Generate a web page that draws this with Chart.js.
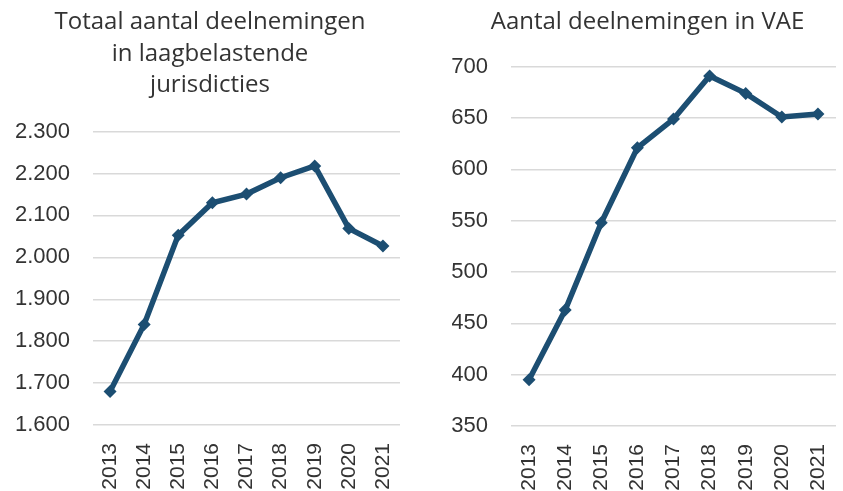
<!DOCTYPE html>
<html>
<head>
<meta charset="utf-8">
<script src="https://cdn.jsdelivr.net/npm/chart.js@4"></script>
<style>
  body { margin: 0; background: #fff; width: 843px; height: 491px; overflow: hidden; position: relative; }
  .box { position: absolute; top: 0; height: 491px; }
  #boxLeft { left: 0; width: 420px; }
  #boxRight { left: 452px; width: 391px; }
</style>
</head>
<body>
<div class="box" id="boxLeft"><canvas id="grafiekTotaal"></canvas></div>
<div class="box" id="boxRight"><canvas id="grafiekVAE"></canvas></div>
<script>
// Data
const jaren = ["2013", "2014", "2015", "2016", "2017", "2018", "2019", "2020", "2021"];
const totaalDeelnemingen = [1680, 1840, 2053, 2130, 2151, 2190, 2218, 2069, 2027];
const deelnemingenVAE = [395, 463, 548, 621, 649, 691, 674, 651, 654];
const ticksTotaal = [1600, 1700, 1800, 1900, 2000, 2100, 2200, 2300];
const ticksVAE = [350, 400, 450, 500, 550, 600, 650, 700];

const lijnKleur = "#1c4e72";
const tekstKleur = "#333333";

// duizendtallen met punt (nl)
function formatNL(v) {
  return String(v).replace(/\B(?=(\d{3})+(?!\d))/g, ".");
}

// as-breedtes vastzetten zodat het plotvlak op dezelfde plek staat als het origineel
function maakGrafiek(id, titel, waarden, ticks, opts) {
  new Chart(document.getElementById(id), {
    type: "line",
    data: {
      labels: jaren,
      datasets: [{
        data: waarden,
        borderColor: lijnKleur,
        backgroundColor: lijnKleur,
        borderWidth: 5.5,
        pointStyle: "rectRot",
        pointRadius: 6.5,
        pointBorderWidth: 0,
        tension: 0
      }]
    },
    options: {
      responsive: true,
      maintainAspectRatio: false,
      animation: false,
      layout: { padding: 0 },
      plugins: {
        legend: { display: false },
        tooltip: { enabled: false },
        title: {
          display: true,
          text: titel,
          color: tekstKleur,
          font: { family: "Open Sans", size: 24, weight: "normal", lineHeight: 1.3 },
          padding: { top: 7, bottom: opts.titelOnder }
        }
      },
      scales: {
        x: {
          offset: true,
          grid: { display: false },
          border: { display: false },
          ticks: {
            color: tekstKleur,
            font: { family: "Liberation Sans", size: 21 },
            minRotation: 90,
            maxRotation: 90,
            padding: 10
          },
          afterFit: axis => {
            axis.height = opts.xHoogte;
            axis.paddingLeft = 0;
            axis.paddingRight = opts.rechts;
          }
        },
        y: {
          min: ticks[0],
          max: ticks[ticks.length - 1],
          afterBuildTicks: axis => { axis.ticks = ticks.map(v => ({ value: v })); },
          grid: { color: "#d9d9d9", lineWidth: 1.5, drawTicks: false },
          border: { display: false },
          ticks: {
            color: tekstKleur,
            font: { family: "Liberation Sans", size: 22 },
            padding: 23,
            callback: v => formatNL(v)
          },
          afterFit: axis => { axis.width = opts.yBreedte; }
        }
      }
    }
  });
}

maakGrafiek("grafiekTotaal",
  ["Totaal aantal deelnemingen", "in laagbelastende", "jurisdicties"],
  totaalDeelnemingen, ticksTotaal,
  { titelOnder: 31, xHoogte: 66, yBreedte: 93, rechts: 20 });

maakGrafiek("grafiekVAE",
  "Aantal deelnemingen in VAE",
  deelnemingenVAE, ticksVAE,
  { titelOnder: 28.5, xHoogte: 65, yBreedte: 59, rechts: 7 });
</script>
</body>
</html>
